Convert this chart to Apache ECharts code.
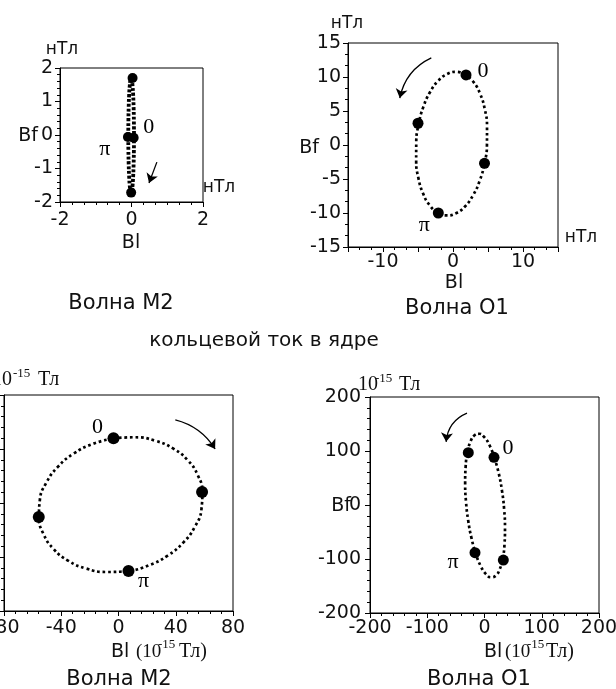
<!DOCTYPE html>
<html><head><meta charset="utf-8">
<script src="https://cdn.jsdelivr.net/npm/echarts@6/dist/echarts.min.js"></script>
<style>html,body{margin:0;padding:0;background:#fff}#c{width:616px;height:689px}</style>
</head><body><div id="c"></div>
<script>
// ---- Panel A: wave M2, top (nT) ----
const aBl = [0.07,0.067,0.059,0.047,0.03,0.011,-0.01,-0.031,-0.05,-0.067,-0.079,-0.087,-0.09,-0.087,-0.079,-0.067,-0.05,-0.031,-0.01,0.011,0.03,0.047,0.059,0.067];
const aBf = [-0.02,-0.463,-0.875,-1.229,-1.501,-1.672,-1.73,-1.672,-1.501,-1.229,-0.875,-0.463,-0.02,0.423,0.835,1.189,1.461,1.632,1.69,1.632,1.461,1.189,0.835,0.423];
const aMarkBl = [0.06, -0.01, -0.1, 0.03];
const aMarkBf = [-0.08, -1.72, -0.06, 1.70];
const aMarkText = ['0', '', 'π', ''];
const aArrow = [[0.71, -0.81], [0.49, -1.43]];
const aXTicks = [-2, 0, 2];
const aYTicks = [-2, -1, 0, 1, 2];

// ---- Panel B: wave O1, top (nT) ----
const bBl = [1.79,0.51,-0.82,-2.11,-3.27,-4.22,-4.90,-5.25,-5.26,-4.93,-4.27,-3.34,-2.19,-0.91,0.42,1.71,2.87,3.82,4.50,4.85,4.86,4.53,3.87,2.94];
const bBf = [10.35,10.76,10.44,9.44,7.79,5.64,3.11,0.38,-2.36,-4.92,-7.14,-8.85,-9.95,-10.36,-10.04,-9.04,-7.39,-5.24,-2.71,0.02,2.76,5.32,7.54,9.25];
const bMarkBl = [1.86, -5.0, -2.1, 4.5];
const bMarkBf = [10.3, 3.2, -10.0, -2.7];
const bMarkText = ['0', '', 'π', ''];
const bArrow = [[-3.1, 12.8], [-7.6, 6.9]];
const bXTicks = [-10, 0, 10];
const bYTicks = [-15, -10, -5, 0, 5, 10, 15];

// ---- Panel C: wave M2, ring current in the core (1e-15 T) ----
const cBl = [-3.49,11.47,25.74,38.34,48.43,55.36,58.57,57.94,53.41,45.39,34.39,21.10,6.49,-8.47,-22.74,-35.34,-45.43,-52.36,-55.57,-54.94,-50.41,-42.39,-31.39,-18.10];
const cBf = [47.9,48.7,46.1,40.25,31.6,20.7,8.35,-4.7,-17.5,-29.15,-38.95,-46.15,-50.3,-51.1,-48.5,-42.65,-34.0,-23.1,-10.75,2.3,15.1,26.75,36.55,43.75];
const cMarkBl = [-3.5, 58.4, 7.0, -55.7];
const cMarkBf = [48, 8.1, -50.4, -10.4];
const cMarkText = ['0', '', 'π', ''];
const cArrow = [[39.7, 61.5], [67.5, 40]];
const cXTicks = [-80, -40, 0, 40, 80];
const cYTicks = [];

// ---- Panel D: wave O1, ring current in the core (1e-15 T) ----
const dBl = [17.3,8.8,-0.2,-9.2,-17.4,-24.4,-29.7,-32.9,-33.8,-32.3,-28.5,-22.7,-15.3,-6.8,2.2,11.2,19.4,26.4,31.7,34.9,35.8,34.3,30.5,24.7];
const dBf = [88.0,110.6,125.5,131.9,129.1,117.5,97.8,71.5,40.1,5.9,-28.7,-61.4,-90.0,-112.6,-127.5,-133.9,-131.1,-119.5,-99.8,-73.5,-42.1,-7.9,26.7,59.4];
const dMarkBl = [16.6, -28.3, -16.6, 32.9];
const dMarkBf = [88.3, 96.9, -88.3, -101.9];
const dMarkText = ['0', '', 'π', ''];
const dArrow = [[-30.6, 170], [-67, 117]];
const dXTicks = [-200, -100, 0, 100, 200];
const dYTicks = [-200, -100, 0, 100, 200];

const SANS = 'DejaVu Sans';
const SERIF = 'Liberation Serif';

const panels = [
  {bl:aBl, bf:aBf, mbl:aMarkBl, mbf:aMarkBf, mt:aMarkText, arrow:aArrow, xt:aXTicks, yt:aYTicks,
   grid:{left:60, top:68, width:143, height:134}, x:[-2,2,2,6], y:[-2,2,1,5], xm:9, ym:7, lw:3.8, dash:[3, 1.8],
   off:[[15,-10],[0,0],[-23,12],[0,0]], curv:0, ms:10},
  {bl:bBl, bf:bBf, mbl:bMarkBl, mbf:bMarkBf, mt:bMarkText, arrow:bArrow, xt:bXTicks, yt:bYTicks,
   grid:{left:348, top:43, width:210, height:204}, x:[-15,15,5,3], y:[-15,15,5,3], xm:6, ym:7, lw:2.7, dash:[2.7, 2.8],
   off:[[17,-4],[0,0],[-14,12],[0,0]], curv:-0.25, ms:11},
  {bl:cBl, bf:cBf, mbl:cMarkBl, mbf:cMarkBf, mt:cMarkText, arrow:cArrow, xt:cXTicks, yt:cYTicks,
   grid:{left:4, top:395, width:229, height:216}, x:[-80,80,40,5], y:[-80,80,40,5], xm:8, ym:7, lw:2.7, dash:[2.7, 2.8],
   off:[[-16,-11],[0,0],[15,10],[0,0]], curv:0.2, ms:12},
  {bl:dBl, bf:dBf, mbl:dMarkBl, mbf:dMarkBf, mt:dMarkText, arrow:dArrow, xt:dXTicks, yt:dYTicks,
   grid:{left:370, top:397, width:229, height:216}, x:[-200,200,100,5], y:[-200,200,100,5], xm:6, ym:9, lw:2.7, dash:[2.7, 2.8],
   off:[[14,-9],[0,0],[-22,10],[0,0]], curv:-0.3, ms:11}
];

const grids = [], xAxes = [], yAxes = [], series = [];
const blackLine = {color:'#000', width:1};
panels.forEach((p, i) => {
  grids.push(Object.assign({show:true, borderColor:'#000', borderWidth:1, backgroundColor:'#fff', outerBoundsMode:'none', containLabel:false}, p.grid));
  const mk = (r, ticks, margin) => ({
    gridIndex:i, type:'value', min:r[0], max:r[1], interval:r[2],
    axisLine:{show:true, onZero:false, lineStyle:blackLine},
    axisTick:{show:true, length:5, lineStyle:blackLine},
    minorTick:{show:true, splitNumber:r[3], length:3, lineStyle:blackLine},
    splitLine:{show:false}, minorSplitLine:{show:false},
    axisLabel:{show: ticks.length > 0, color:'#111', fontFamily:SANS, fontSize:19, margin:margin,
      showMinLabel:true, showMaxLabel:true,
      formatter: v => ticks.indexOf(v) >= 0 ? String(v) : ''}
  });
  xAxes.push(mk(p.x, p.xt, p.xm));
  yAxes.push(mk(p.y, p.yt, p.ym));
  const pts = p.bl.map((v, k) => [v, p.bf[k]]);
  pts.push(pts[0]);
  series.push({type:'line', xAxisIndex:i, yAxisIndex:i, data:pts, showSymbol:false, smooth:true,
    lineStyle:{color:'#000', width:p.lw, type:p.dash}, silent:true, z:2});
  series.push({type:'scatter', xAxisIndex:i, yAxisIndex:i, symbol:'circle', symbolSize:p.ms,
    itemStyle:{color:'#000', opacity:1}, z:3,
    data: p.mbl.map((v, k) => ({value:[v, p.mbf[k]],
      label:{show: p.mt[k] !== '', formatter: p.mt[k], position:'inside', offset:p.off[k],
        color:'#000', fontFamily:SERIF, fontSize:22}}))});
  series.push({type:'lines', coordinateSystem:'cartesian2d', xAxisIndex:i, yAxisIndex:i,
    symbol:['none','arrow'], symbolSize:9, z:4,
    lineStyle:{color:'#000', width:1.3, curveness:p.curv, opacity:1},
    data:[{coords:p.arrow}]});
});

const T = (text, x, y, opts) => Object.assign({type:'text', x:x, y:y, style:Object.assign({text:text, fill:'#111',
  font:'19px "' + SANS + '"', align:'center', verticalAlign:'middle'}, opts || {})});
const serif = (s) => ({font: s + 'px "' + SERIF + '"', align:'left'});
const sans = (s) => ({font: s + 'px "' + SANS + '"'});

const graphics = [
  // panel A
  T('нТл', 62, 50, sans(17)), T('Bf', 28, 136), T('Bl', 131, 243),
  T('нТл', 219, 188, sans(17)), T('Волна M2', 121, 304, sans(21)),
  // panel B
  T('нТл', 347, 24, sans(17)), T('Bf', 309, 148), T('Bl', 454, 283),
  T('нТл', 581, 238, sans(17)), T('Волна O1', 457, 309, sans(21)),
  // middle title
  T('кольцевой ток в ядре', 264, 341, sans(20)),
  // panel C
  T('10', -8, 380, serif(20)), T('-15', 13, 374, serif(13)), T('Тл', 38, 380, serif(20)),
  T('Bl', 111, 652, {align:'left'}), T('(10', 136, 652, serif(19)), T('-15', 158, 645, serif(13)), T('Тл)', 179, 652, serif(20)),
  T('Волна M2', 119, 680, sans(21)),
  // panel D
  T('10', 358, 385, serif(20)), T('-15', 375, 379, serif(13)), T('Тл', 399, 385, serif(20)),
  T('Bf', 341, 506),
  T('Bl', 484, 652, {align:'left'}), T('(10', 505, 652, serif(19)), T('-15', 527, 645, serif(13)), T('Тл)', 546, 652, serif(20)),
  T('Волна O1', 479, 680, sans(21))
];

const chart = echarts.init(document.getElementById('c'), null, {renderer:'canvas'});
chart.setOption({
  backgroundColor:'#fff', animation:false,
  grid:grids, xAxis:xAxes, yAxis:yAxes, series:series, graphic:graphics
});
</script></body></html>
